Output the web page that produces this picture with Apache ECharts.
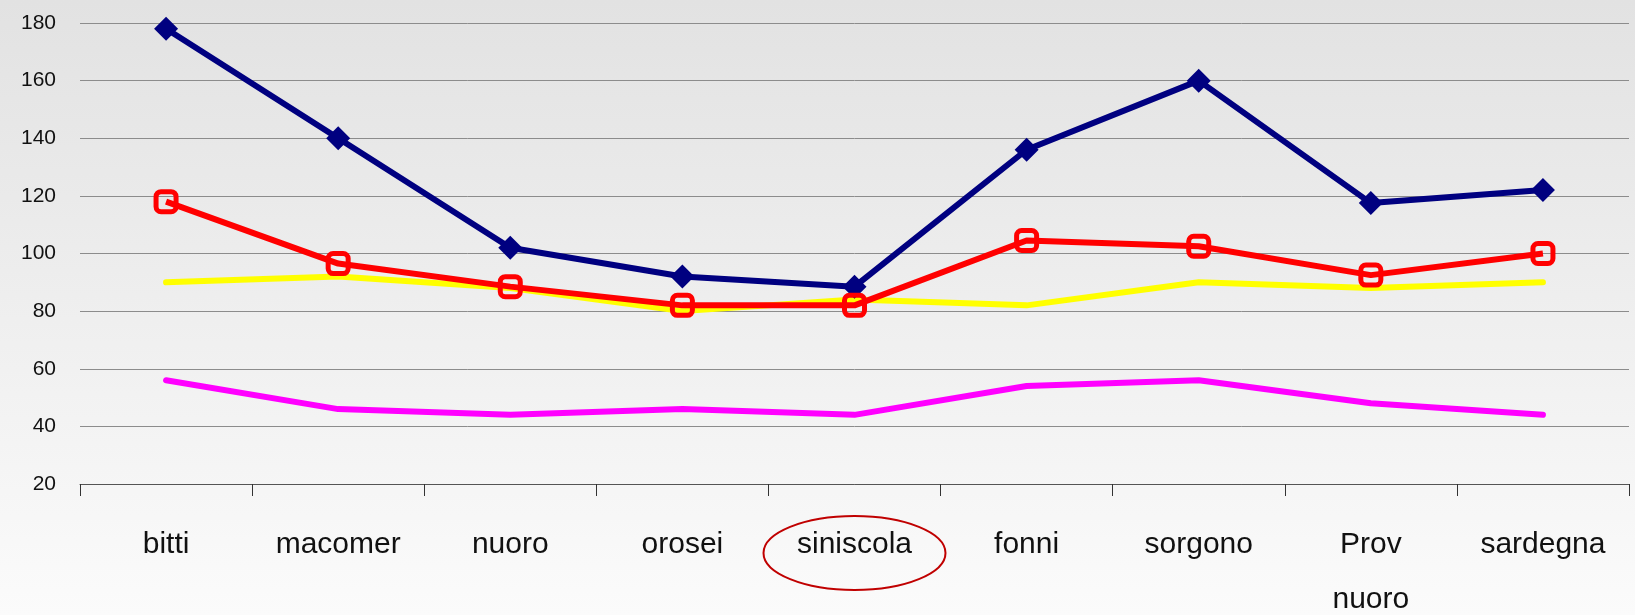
<!DOCTYPE html>
<html>
<head>
<meta charset="utf-8">
<script src="https://cdn.jsdelivr.net/npm/echarts@6/dist/echarts.min.js"></script>
<style>
  html, body { margin: 0; padding: 0; }
  #chart { width: 1635px; height: 615px; }
</style>
</head>
<body>
<div id="chart"></div>
<script>
const categories = ["bitti", "macomer", "nuoro", "orosei", "siniscola", "fonni", "sorgono", "Prov\nnuoro", "sardegna"];
const highlighted = "siniscola";

// values
const navyValues = [178, 140, 102, 92, 88.5, 136, 160, 117.5, 122];
const redValues = [118, 96.5, 88.5, 82, 82, 104.5, 102.5, 92.5, 100];
const yellowValues = [90, 92, 88, 80, 84, 82, 90, 88, 90];
const magentaValues = [56, 46, 44, 46, 44, 54, 56, 48, 44];

const yTicks = { min: 20, max: 180, interval: 20 };

const chart = echarts.init(document.getElementById("chart"));

const options = {
  backgroundColor: {
    type: "linear",
    x: 0, y: 0, x2: 0, y2: 1,
    colorStops: [
      { offset: 0, color: "#e2e2e2" },
      { offset: 1, color: "#fbfbfb" },
    ],
  },
  animation: false,
  grid: { left: 80, right: 6, top: 23, bottom: 131, outerBoundsMode: "none", containLabel: false },
  xAxis: {
    type: "category",
    data: categories,
    axisLine: { show: true, lineStyle: { color: "#555", width: 1 } },
    axisTick: { show: true, length: 12, lineStyle: { color: "#333", width: 1 } },
    axisLabel: {
      color: "#111",
      fontSize: 30,
      lineHeight: 55,
      margin: 33,
      fontFamily: "'Liberation Sans', Arial, sans-serif",
      interval: 0,
    },
    splitLine: { show: false },
  },
  yAxis: {
    type: "value",
    min: yTicks.min,
    max: yTicks.max,
    interval: yTicks.interval,
    axisLine: { show: false },
    axisTick: { show: false },
    axisLabel: {
      color: "#111",
      fontSize: 21,
      margin: 24,
      fontFamily: "'Liberation Sans', Arial, sans-serif",
    },
    splitLine: { lineStyle: { color: "#8c8c8c", width: 1 } },
  },
  series: [
    {
      type: "line",
      data: magentaValues,
      showSymbol: false,
      lineStyle: { color: "#ff00ff", width: 6, cap: "round" },
      itemStyle: { color: "#ff00ff" },
    },
    {
      type: "line",
      data: yellowValues,
      showSymbol: false,
      lineStyle: { color: "#ffff00", width: 6, cap: "round" },
      itemStyle: { color: "#ffff00" },
    },
    {
      type: "line",
      data: navyValues,
      symbol: "diamond",
      symbolSize: 24,
      lineStyle: { color: "#000080", width: 6 },
      itemStyle: { color: "#000080" },
    },
    {
      type: "line",
      data: redValues,
      symbol: "roundRect",
      symbolSize: 20,
      lineStyle: { color: "#ff0000", width: 6 },
      itemStyle: { color: "rgba(0,0,0,0)", borderColor: "#ff0000", borderWidth: 5 },
    },
  ],
};

chart.setOption(options);

// red ellipse drawn round the highlighted category label
const cx = chart.convertToPixel({ xAxisIndex: 0 }, highlighted);
const axisY = chart.convertToPixel({ yAxisIndex: 0 }, yTicks.min);
chart.setOption({
  graphic: [
    {
      type: "ellipse",
      shape: { cx: cx, cy: axisY + 69, rx: 91, ry: 37 },
      style: { fill: null, stroke: "#c00000", lineWidth: 2 },
      silent: true,
    },
  ],
});
</script>
</body>
</html>
